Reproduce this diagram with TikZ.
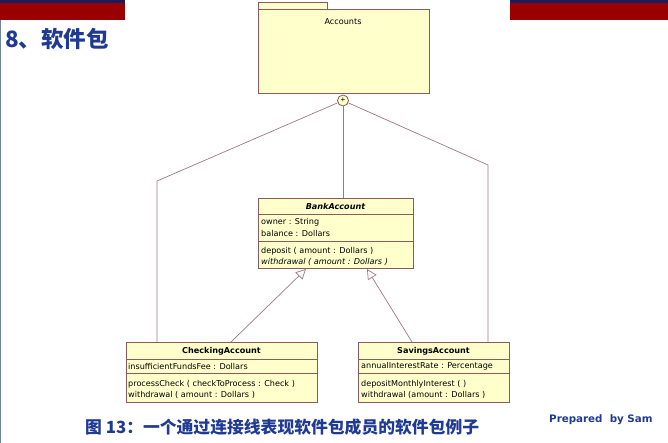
\documentclass[tikz,border=0pt]{standalone}
\usepackage{fontspec}
\setmainfont{Liberation Sans}
\newfontfamily\umlfont{DejaVu Sans}
\newfontfamily\cjk{Noto Sans CJK SC}
\usetikzlibrary{arrows.meta}
\definecolor{umlfill}{HTML}{FFFFCC}
\definecolor{umlborder}{HTML}{8C5A5A}
\definecolor{umlline}{HTML}{A07686}
\definecolor{titleblue}{HTML}{1F3A93}
\definecolor{barred}{HTML}{990000}
\definecolor{barblue}{HTML}{1C1C5C}
\definecolor{edgeblue}{HTML}{6E86A0}
\tikzset{
  classbox/.style={draw=umlborder, fill=umlfill, line width=0.8pt, inner sep=0pt, anchor=north west},
  comp/.style={draw=umlborder, line width=0.8pt},
  umltext/.style={font=\umlfont\fontsize{8.1}{9}\selectfont, inner sep=0pt, anchor=west, text=black},
  umlname/.style={font=\umlfont\fontsize{8.1}{9}\selectfont\bfseries, inner sep=0pt, text=black},
  link/.style={draw=umlline, line width=0.7pt},
  gen/.style={draw=umlline, line width=0.7pt, -{Triangle[open, length=10pt, width=10pt, fill=white]}},
}
\begin{document}
\begin{tikzpicture}[x=1pt, y=-1pt]
\useasboundingbox (0,0) rectangle (668,443);
% header bars
\fill[barred] (0,0) rectangle (125,20);
\fill[barblue] (0,0) rectangle (125,3);
\fill[barred] (510,0) rectangle (668,20);
\fill[barblue] (510,0) rectangle (668,3);
\draw[edgeblue, line width=1.2pt] (0.6,20) -- (0.6,443);
% title
\node[anchor=west, inner sep=0pt, text=titleblue, font=\cjk\bfseries\fontsize{22.5}{25}\selectfont] (title) at (5,39) {8、软件包};
% package
\node[classbox, minimum width=69pt, minimum height=7pt] (tab) at (258,2) {};
\node[classbox, minimum width=171pt, minimum height=84pt] (pkg) at (258,9) {};
\node[umltext, anchor=center] (pkgname) at (343,22) {Accounts};
% containment circle
\node[circle, draw=umlborder, fill=umlfill, line width=0.8pt, minimum size=11pt, inner sep=0pt, font=\fontsize{8}{8}\selectfont] (plus) at (343,100.5) {+};
% BankAccount
\node[classbox, minimum width=155pt, minimum height=70pt] (bank) at (258,198) {};
\draw[comp] (258,214) -- (413,214);
\draw[comp] (258,241) -- (413,241);
\node[umlname, font=\umlfont\fontsize{8.1}{9}\selectfont\bfseries\itshape] (bankname) at (335.5,206) {BankAccount};
\node[umltext] (b1) at (261,222.5) {owner : String};
\node[umltext] (b2) at (261,233.5) {balance : Dollars};
\node[umltext] (b3) at (261,251) {deposit ( amount : Dollars )};
\node[umltext, font=\umlfont\fontsize{8.1}{9}\selectfont\itshape] (b4) at (261,261.5) {withdrawal ( amount : Dollars )};
% CheckingAccount
\node[classbox, minimum width=191pt, minimum height=60pt] (check) at (126,342) {};
\draw[comp] (126,359) -- (317,359);
\draw[comp] (126,373) -- (317,373);
\node[umlname] (checkname) at (221.5,351) {CheckingAccount};
\node[umltext] (c1) at (128,366) {insufficientFundsFee : Dollars};
\node[umltext] (c2) at (128,384) {processCheck ( checkToProcess : Check )};
\node[umltext] (c3) at (128,395) {withdrawal ( amount : Dollars )};
% SavingsAccount
\node[classbox, minimum width=151pt, minimum height=60pt] (save) at (358,342) {};
\draw[comp] (358,359) -- (509,359);
\draw[comp] (358,373) -- (509,373);
\node[umlname] (savename) at (433.5,351) {SavingsAccount};
\node[umltext] (s1) at (361,366.5) {annualInterestRate : Percentage};
\node[umltext] (s2) at (361,384) {depositMonthlyInterest (  )};
\node[umltext] (s3) at (361,395) {withdrawal (amount : Dollars )};
% containment links
\coordinate (lc) at (157,181);
\coordinate (rc) at (488,165);
\draw[link] (plus) -- (lc) -- (lc |- check.north);
\draw[link] (plus) -- (plus |- bank.north);
\draw[link] (plus) -- (rc) -- (rc |- save.north);
% generalizations
\coordinate (gl) at (231,342);
\coordinate (gr) at (412,342);
\coordinate (tl) at (306,269);
\coordinate (tr) at (367,269);
\draw[gen] (gl) -- (tl);
\draw[gen] (gr) -- (tr);
% caption
\node[anchor=west, inner sep=0pt, text=titleblue, font=\cjk\bfseries\fontsize{16.8}{19}\selectfont] (caption) at (85,427) {图 13：一个通过连接线表现软件包成员的软件包例子};
\node[anchor=west, inner sep=0pt, text=titleblue, font=\umlfont\bfseries\fontsize{10.3}{12}\selectfont] (prep) at (549,420) {Prepared\ \ by Sam};
\end{tikzpicture}
\end{document}
